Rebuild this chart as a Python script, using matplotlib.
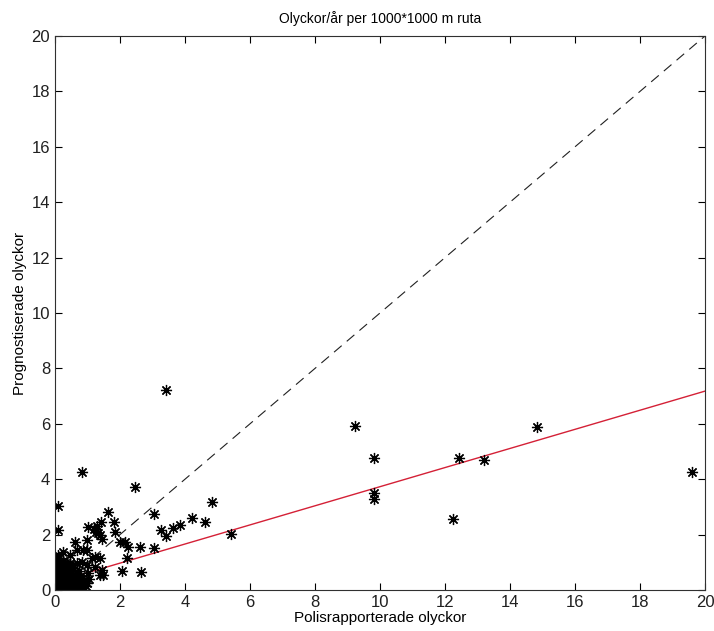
import matplotlib.pyplot as plt
import numpy as np

# --- data (polisrapporterade vs prognostiserade) ---
# spread-out points
x_out = [3.42, 0.84, 2.46, 0.08, 0.08, 4.84, 3.06, 1.64, 4.23, 4.60, 3.85, 3.64,
         3.25, 3.43, 5.42, 3.06, 2.62, 2.24, 2.20, 2.05, 2.65, 2.00, 2.15, 1.85,
         1.41, 1.28, 1.25, 1.32, 1.20, 1.03, 0.97, 0.62, 9.23, 9.80, 9.80, 9.80,
         12.44, 13.20, 14.82, 12.26, 19.59, 1.80, 1.46, 1.38]
y_out = [7.22, 4.25, 3.71, 3.04, 2.17, 3.17, 2.74, 2.80, 2.59, 2.44, 2.35, 2.25,
         2.15, 1.96, 2.02, 1.53, 1.56, 1.56, 1.14, 0.69, 0.64, 1.74, 1.74, 2.10,
         2.47, 2.30, 2.10, 2.05, 2.20, 2.29, 1.80, 1.74, 5.92, 4.75, 3.51, 3.28,
         4.78, 4.68, 5.87, 2.56, 4.26, 2.45, 1.85, 2.00]

# dense cluster near the origin
x_low = [0.67, 0.87, 0.97, 0.26, 0.46, 0.10, 0.26, 0.46, 0.67, 0.82, 0.97, 1.13,
         1.23, 1.38, 1.23, 1.44, 1.49, 1.38, 0.82, 0.97, 0.87, 1.05, 0.75, 0.55,
         0.00, 0.05, 0.10, 0.15, 0.20, 0.25, 0.30, 0.35, 0.40, 0.45, 0.50, 0.55,
         0.60, 0.65, 0.70, 0.00, 0.05, 0.10, 0.15, 0.20, 0.25, 0.30, 0.35, 0.40,
         0.45, 0.50, 0.55, 0.60, 0.00, 0.05, 0.10, 0.15, 0.20, 0.25, 0.30, 0.35,
         0.40, 0.45, 0.50, 0.00, 0.05, 0.10, 0.15, 0.20, 0.25, 0.30, 0.00, 0.05,
         0.10, 0.15, 0.20, 0.00, 0.05, 0.10, 0.35, 0.55, 0.70, 0.15, 0.40, 0.62,
         0.00, 0.02, 0.08, 0.12, 0.18, 0.22, 0.28, 0.32, 0.38, 0.42, 0.48, 0.52,
         0.80, 0.90, 1.00, 0.85, 0.95, 0.75, 0.65]
y_low = [1.44, 1.44, 1.44, 1.38, 1.26, 1.26, 1.02, 0.96, 0.96, 1.02, 0.90, 1.14,
         1.20, 1.14, 0.84, 0.72, 0.54, 0.54, 0.24, 0.24, 0.06, 0.40, 0.70, 0.80,
         0.05, 0.10, 0.02, 0.15, 0.08, 0.20, 0.12, 0.25, 0.05, 0.30, 0.18, 0.10,
         0.35, 0.22, 0.15, 0.30, 0.40, 0.35, 0.50, 0.45, 0.55, 0.42, 0.60, 0.48,
         0.52, 0.62, 0.45, 0.55, 0.60, 0.70, 0.65, 0.75, 0.68, 0.80, 0.72, 0.85,
         0.78, 0.90, 0.82, 0.90, 0.95, 1.00, 0.92, 0.88, 1.05, 0.98, 0.02, 0.00,
         0.08, 0.00, 0.12, 0.15, 0.22, 0.28, 0.02, 0.05, 0.00, 0.05, 0.10, 0.30,
         1.10, 1.05, 0.85, 1.15, 0.75, 0.60, 0.35, 0.50, 0.12, 0.40, 0.28, 0.05,
         0.50, 0.35, 0.60, 0.10, 0.15, 0.40, 0.55]

x_pts = x_out + x_low
y_pts = y_out + y_low

# fitted line (intercept, slope) and the 1:1 reference
fit_intercept = 0.28
fit_slope = 0.345
lim = [0, 20]

tick_font = ['Liberation Sans Narrow', 'Liberation Sans', 'DejaVu Sans']
text_font = ['Liberation Sans', 'DejaVu Sans']

fig = plt.figure(figsize=(7.14, 6.31), dpi=100)
ax = fig.add_axes([55 / 714, 41 / 631, 650 / 714, 554 / 631])

ax.plot(lim, lim, color='#202020', linestyle=(0, (9, 6)), linewidth=0.8)
fit_x = np.array(lim)
ax.plot(fit_x, fit_intercept + fit_slope * fit_x, color='#d42036', linewidth=1.0)
ax.plot(x_pts, y_pts, linestyle='none', marker=(8, 2, 0), markersize=8,
        markeredgewidth=0.9, color='black')

ax.set_xlim(lim)
ax.set_ylim(lim)
ax.set_xticks(np.arange(0, 21, 2))
ax.set_yticks(np.arange(0, 21, 2))
ax.tick_params(direction='in', length=5, top=True, right=True,
               labelsize=12, colors='black', labelcolor='#202020')
for lab in ax.get_xticklabels() + ax.get_yticklabels():
    lab.set_family(tick_font)
for s in ax.spines.values():
    s.set_color('#303030')
    s.set_linewidth(0.8)

ax.set_title('Olyckor/år per 1000*1000 m ruta', fontsize=10, pad=9,
             family=text_font)
ax.set_xlabel('Polisrapporterade olyckor', fontsize=11, labelpad=1,
              family=tick_font)
ax.set_ylabel('Prognostiserade olyckor', fontsize=11, labelpad=3,
              family=tick_font)

plt.savefig('out.png', dpi=100)
